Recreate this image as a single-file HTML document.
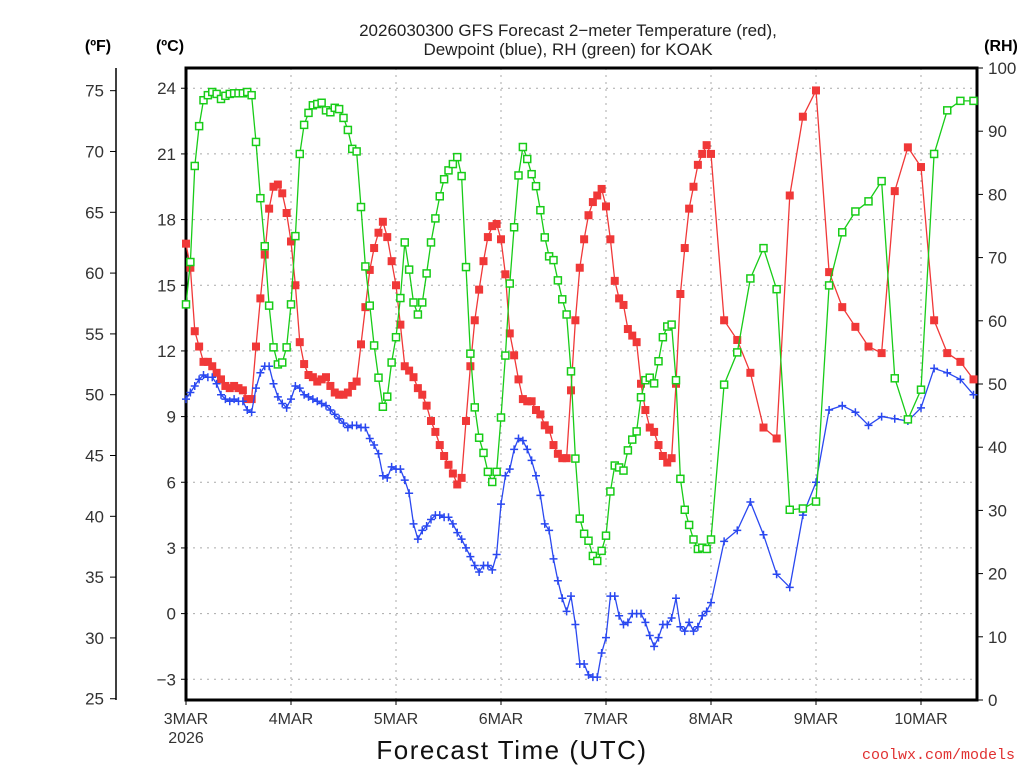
<!DOCTYPE html>
<html><head><meta charset="utf-8"><style>
html,body{margin:0;padding:0;background:#fff;width:1024px;height:768px;overflow:hidden}
svg{display:block;font-family:"Liberation Sans",sans-serif}
</style></head><body>
<svg id="chart" width="1024" height="768" viewBox="0 0 1024 768">
<text x="568" y="36" text-anchor="middle" font-size="17" fill="#222">2026030300 GFS Forecast 2−meter Temperature (red),</text>
<text x="568" y="55" text-anchor="middle" font-size="17" fill="#222">Dewpoint (blue), RH (green) for KOAK</text>
<text x="98" y="51" text-anchor="middle" font-size="16" font-weight="bold">(ºF)</text>
<text x="170" y="51" text-anchor="middle" font-size="16" font-weight="bold">(ºC)</text>
<text x="1001" y="51" text-anchor="middle" font-size="16" font-weight="bold">(RH)</text>
<text x="512" y="759" text-anchor="middle" font-size="26" letter-spacing="1.5" fill="#111">Forecast Time (UTC)</text>
<text x="1015" y="759" text-anchor="end" font-size="15" fill="#e03030" font-family="Liberation Mono, monospace">coolwx.com/models</text>
<g id="grid"></g>
<g id="axes"></g>
<g id="series"></g>
</svg>
<script>
const tempHourly=[16.9,15.8,12.9,12.2,11.5,11.5,11.3,11.0,10.7,10.4,10.3,10.4,10.3,10.2,9.8,9.8,12.2,14.4,16.4,18.5,19.5,19.6,19.2,18.3,17.0,15.0,12.4,11.4,10.9,10.8,10.6,
10.7,10.8,10.4,10.1,10.0,10.0,10.1,10.4,10.6,12.3,14.0,15.7,16.7,17.4,17.9,17.2,16.1,15.0,13.2,11.3,11.1,10.8,10.3,10.0,9.5,8.8,8.3,7.7,7.2,
6.8,6.4,5.9,6.2,8.8,11.3,13.4,14.8,16.1,17.2,17.7,17.8,17.1,15.5,12.8,11.8,10.7,9.8,9.7,9.7,9.3,9.1,8.6,8.4,7.7,7.3,7.1,7.1,10.2,13.4,15.8,17.1,18.2,
18.8,19.1,19.4,18.6,17.1,15.2,14.4,14.1,13.0,12.7,12.4,10.5,9.3,8.5,8.3,7.7,7.2,6.9,7.1,10.5,14.6,16.7,18.5,19.5,20.5,21.0,21.4,21.0];
const temp3Hourly=[13.4,12.5,11.0,8.5,8.0,19.1,22.7,23.9,15.6,14.0,13.1,12.2,11.9,19.3,21.3,20.4,13.4,11.9,11.5,10.7];
const dewHourly=[9.8,10.1,10.4,10.7,10.9,10.8,10.8,10.5,10.0,9.8,9.7,9.8,9.7,9.7,9.3,9.2,10.3,11.0,11.3,11.3,10.5,9.9,9.6,9.4,9.8,10.4,10.3,10.0,9.9,9.8,9.7,
9.6,9.5,9.3,9.1,8.9,8.7,8.5,8.6,8.6,8.5,8.5,8.0,7.7,7.3,6.3,6.2,6.7,6.6,6.6,6.1,5.5,4.1,3.4,3.8,4.0,4.3,4.5,4.5,4.4,
4.4,4.1,3.7,3.4,3.0,2.6,2.2,1.9,2.2,2.2,2.0,2.7,5.0,6.3,6.6,7.5,8.0,7.9,7.5,7.0,6.3,5.4,4.1,3.8,2.5,1.5,0.7,0.1,0.8,-0.5,-2.3,-2.3,-2.8,
-2.9,-2.9,-1.8,-1.1,0.8,0.8,-0.1,-0.5,-0.4,0.0,0.0,0.0,-0.4,-1.0,-1.5,-1.1,-0.5,-0.5,-0.2,0.7,-0.6,-0.8,-0.4,-0.8,-0.6,-0.1,0.1,0.5];
const dew3Hourly=[3.3,3.8,5.1,3.6,1.8,1.2,4.5,6.0,9.3,9.5,9.2,8.6,9.0,8.9,8.8,9.4,11.2,11.0,10.7,10.0];
const rhHourly=[62.6,69.3,84.5,90.8,94.9,95.7,96.2,95.9,95.1,95.6,95.9,96.0,96.0,96.0,96.2,95.7,88.3,79.4,71.8,62.4,55.8,53.1,53.4,55.8,62.6,73.4,86.4,91.0,92.9,94.1,94.3,
94.5,93.3,93.0,93.7,93.5,92.1,90.2,87.2,86.8,78.0,68.6,62.4,56.1,51.0,46.4,48.0,53.4,57.4,63.6,72.4,68.1,62.9,61.0,62.9,67.5,72.4,76.2,79.7,82.4,
83.8,84.8,85.9,82.9,68.5,54.8,46.3,41.5,39.1,36.1,34.5,36.1,44.7,54.5,65.9,74.8,83.0,87.5,85.6,83.2,81.3,77.5,73.2,70.2,69.6,66.4,63.4,61.0,52.0,38.2,28.7,26.3,25.2,
22.8,22.0,23.6,26.0,33.0,37.1,36.8,36.3,39.5,41.2,42.5,47.9,50.6,51.0,50.1,53.6,57.4,59.1,59.4,50.6,35.0,30.1,27.7,25.4,23.9,24.1,23.9,25.4];
const rh3Hourly=[49.9,55.0,66.7,71.5,65.0,30.1,30.3,31.4,65.6,74.0,77.3,78.9,82.1,50.9,44.4,49.1,86.4,93.3,94.8,94.8];
const dayLabels=["3MAR","4MAR","5MAR","6MAR","7MAR","8MAR","9MAR","10MAR"];
const celsiusTicks=[-3,0,3,6,9,12,15,18,21,24];
const fahrenheitTicks=[25,30,35,40,45,50,55,60,65,70,75];
const rhTicks=[0,10,20,30,40,50,60,70,80,90,100];

const L=186,R=977,T=68,B=700,NS="http://www.w3.org/2000/svg";
const xS=h=>L+h*4.375;
const yC=c=>613.6-c*21.89;
const yF=f=>yC((f-32)*5/9);
const yRH=r=>B-r*(B-T)/100;
function mk(tag,attrs,parent){const e=document.createElementNS(NS,tag);for(const k in attrs)e.setAttribute(k,attrs[k]);parent.appendChild(e);return e;}
function hoursFor(hourly,three){const h=[];hourly.forEach((v,i)=>h.push(i));three.forEach((v,i)=>h.push(123+3*i));return h;}
const grid=document.getElementById('grid'),axes=document.getElementById('axes'),ser=document.getElementById('series');

celsiusTicks.forEach(c=>{
  const ln=mk('line',{x1:L,x2:R,y1:yC(c),y2:yC(c),stroke:'#aaa','stroke-dasharray':'2,5','stroke-width':1},grid);
  
  
  mk('line',{x1:L-5,x2:L,y1:yC(c),y2:yC(c),stroke:'#000'},axes);
  const t=mk('text',{x:L-10,y:yC(c)+6,'text-anchor':'end','font-size':17,fill:'#333'},axes);
  t.textContent=c<0?'−'+Math.abs(c):String(c);
  
  
});
dayLabels.forEach((d,i)=>{
  const x=xS(24*i);
  if(i>0){const ln=mk('line',{x1:x,x2:x,y1:T,y2:B,stroke:'#aaa','stroke-dasharray':'2,5','stroke-width':1},grid);
  
  }
  mk('line',{x1:x,x2:x,y1:B,y2:B+5,stroke:'#000'},axes);
  const t=mk('text',{x:x,y:B+24,'text-anchor':'middle','font-size':16,fill:'#333'},axes);
  t.textContent=d;
  
  
});
const yr=mk('text',{x:L,y:B+43,'text-anchor':'middle','font-size':16,fill:'#333'},axes);
yr.textContent='2026';



mk('line',{x1:116,x2:116,y1:T,y2:B,stroke:'#000','stroke-width':1.5},axes);
fahrenheitTicks.forEach(f=>{
  mk('line',{x1:110,x2:116,y1:yF(f),y2:yF(f),stroke:'#000'},axes);
  const t=mk('text',{x:104,y:yF(f)+6,'text-anchor':'end','font-size':17,fill:'#333'},axes);
  t.textContent=String(f);
  
  
});
rhTicks.forEach(r=>{
  mk('line',{x1:R,x2:R+6,y1:yRH(r),y2:yRH(r),stroke:'#000'},axes);
  const t=mk('text',{x:988,y:yRH(r)+6,'text-anchor':'start','font-size':17,fill:'#333'},axes);
  t.textContent=String(r);
  
  
});
const frame=mk('rect',{x:L,y:T,width:R-L,height:B-T,fill:'none',stroke:'#000','stroke-width':3},axes);



function series(vals,hrs,yf,color,marker,name){
  const g=mk('g',{},ser);
  
  
  const pts=vals.map((v,i)=>xS(hrs[i]).toFixed(1)+','+yf(v).toFixed(1)).join(' ');
  mk('polyline',{points:pts,fill:'none',stroke:color,'stroke-width':1.3},g);
  vals.forEach((v,i)=>{
    const x=xS(hrs[i]),y=yf(v);let m;
    if(marker==='fill'){m=mk('rect',{x:x-4,y:y-4,width:8,height:8,fill:color},g);}
    else if(marker==='open'){m=mk('rect',{x:x-3.5,y:y-3.5,width:7,height:7,fill:'#fff',stroke:color,'stroke-width':1.5},g);}
    else{m=mk('path',{d:`M${x-4},${y}H${x+4}M${x},${y-4}V${y+4}`,stroke:color,'stroke-width':1.5,fill:'none'},g);}
    
    
  });
}
series(tempHourly.concat(temp3Hourly),hoursFor(tempHourly,temp3Hourly),yC,'#f03838','fill','temperature-series');
series(dewHourly.concat(dew3Hourly),hoursFor(dewHourly,dew3Hourly),yC,'#2a48f0','plus','dewpoint-series');
series(rhHourly.concat(rh3Hourly),hoursFor(rhHourly,rh3Hourly),yRH,'#18cc18','open','rh-series');
</script>
</body></html>
